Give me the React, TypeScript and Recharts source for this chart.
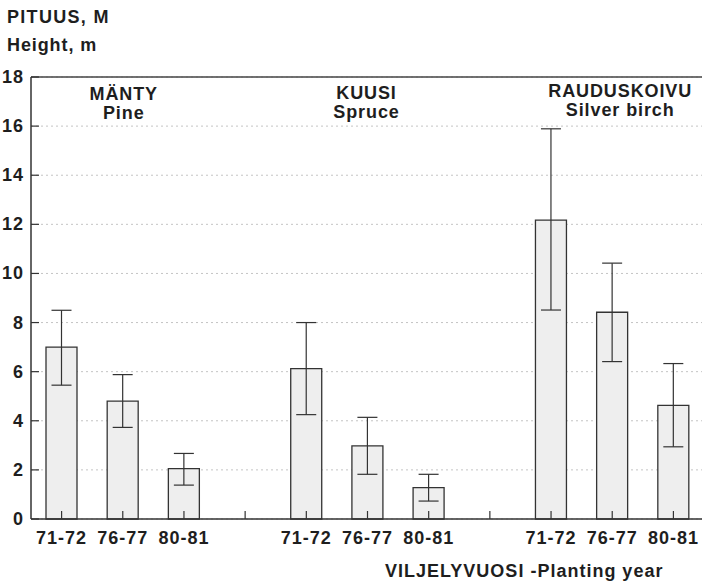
import React from 'react';
import {
  BarChart,
  Bar,
  XAxis,
  YAxis,
  CartesianGrid,
  ErrorBar,
  ReferenceLine,
} from 'recharts';

// mean tree height (m) per planting year, with lower / upper ends of the error bars
const plantingYears = ['71-72', '76-77', '80-81'];
const speciesFi = ['MÄNTY', 'KUUSI', 'RAUDUSKOIVU'];
const speciesEn = ['Pine', 'Spruce', 'Silver birch'];

const pineMean = [7.0, 4.8, 2.05];
const pineLow = [5.45, 3.73, 1.38];
const pineHigh = [8.5, 5.88, 2.67];

const spruceMean = [6.12, 2.98, 1.28];
const spruceLow = [4.25, 1.82, 0.73];
const spruceHigh = [8.0, 4.14, 1.82];

const birchMean = [12.17, 8.42, 4.63];
const birchLow = [8.51, 6.41, 2.94];
const birchHigh = [15.89, 10.42, 6.33];

const yTicks = [0, 2, 4, 6, 8, 10, 12, 14, 16, 18];

const FONT = '"Liberation Sans", Arial, sans-serif';
const INK = '#1e1e1e';

type Row = { slot: string; label: string; value: number | null; err: [number, number] | null };

const groups = [
  { key: 'p', mean: pineMean, low: pineLow, high: pineHigh },
  { key: 's', mean: spruceMean, low: spruceLow, high: spruceHigh },
  { key: 'b', mean: birchMean, low: birchLow, high: birchHigh },
];

// three bars per species, an empty slot between species
const rows: Row[] = [];
groups.forEach((g, gi) => {
  plantingYears.forEach((yr, i) => {
    rows.push({
      slot: `${g.key}${i}`,
      label: yr,
      value: g.mean[i],
      err: [g.mean[i] - g.low[i], g.high[i] - g.mean[i]],
    });
  });
  if (gi < groups.length - 1) rows.push({ slot: `gap${gi}`, label: '', value: null, err: null });
});

const labelBySlot: Record<string, string> = {};
rows.forEach((r) => (labelBySlot[r.slot] = r.label));

const XTick = (props: any) => {
  const { x, y, payload } = props;
  return (
    <g>
      <line x1={x} x2={x} y1={y - 8} y2={y} stroke="#333" strokeWidth={1.2} />
      <text
        x={x}
        y={y + 25}
        textAnchor="middle"
        fontFamily={FONT}
        fontWeight="bold"
        fontSize={18}
        letterSpacing={1}
        fill={INK}
      >
        {labelBySlot[payload.value]}
      </text>
    </g>
  );
};

const YTick = (props: any) => {
  const { x, y, payload } = props;
  return (
    <g>
      <line x1={x} x2={x + 8} y1={y} y2={y} stroke="#333" strokeWidth={1.2} />
      <text
        x={x - 7}
        y={y + 6}
        textAnchor="end"
        fontFamily={FONT}
        fontWeight="bold"
        fontSize={18}
        letterSpacing={1}
        fill={INK}
      >
        {payload.value}
      </text>
    </g>
  );
};

const speciesLabel = (fi: string, en: string, dx: number, y0: number) => (props: any) => {
  const cx = props.viewBox.x + dx;
  return (
    <g fontFamily={FONT} fontWeight="bold" fontSize={18} fill={INK} textAnchor="middle" letterSpacing={0.9}>
      <text x={cx} y={y0}>{fi}</text>
      <text x={cx} y={y0 + 19}>{en}</text>
    </g>
  );
};

const App: React.FC = () => {
  return (
    <div style={{ position: 'absolute', left: 0, top: 0, width: 702, height: 584, background: '#fff' }}>
      <BarChart
        width={702}
        height={584}
        data={rows}
        margin={{ top: 77, right: -2, bottom: 0, left: 0 }}
        barSize={31}
      >
        <CartesianGrid vertical={false} stroke="#c4c4c4" strokeDasharray="2 3" />
        <XAxis
          dataKey="slot"
          height={65}
          tickSize={0}
          tickMargin={0}
          interval={0}
          axisLine={{ stroke: '#333', strokeWidth: 1.5 }}
          tickLine={false}
          tick={<XTick />}
        />
        <YAxis
          width={31}
          domain={[0, 18]}
          ticks={yTicks}
          tickSize={0}
          tickMargin={0}
          axisLine={{ stroke: '#333', strokeWidth: 1.5 }}
          tickLine={false}
          tick={<YTick />}
        />
        <ReferenceLine y={18} stroke="#444" strokeWidth={1.5} />
        <ReferenceLine x="p1" strokeOpacity={0} label={speciesLabel(speciesFi[0], speciesEn[0], 1, 100)} />
        <ReferenceLine x="s1" strokeOpacity={0} label={speciesLabel(speciesFi[1], speciesEn[1], -1, 99)} />
        <ReferenceLine x="b1" strokeOpacity={0} label={speciesLabel(speciesFi[2], speciesEn[2], 8, 97)} />
        <Bar dataKey="value" fill="#eeeeee" stroke="#333" strokeWidth={1.3} isAnimationActive={false}>
          <ErrorBar dataKey="err" width={10} stroke="#333" strokeWidth={1.2} />
        </Bar>
      </BarChart>
      <svg
        width={702}
        height={584}
        style={{ position: 'absolute', left: 0, top: 0, pointerEvents: 'none' }}
      >
        <g fontFamily={FONT} fontWeight="bold" fontSize={18} fill={INK}>
          <text x={7} y={23} letterSpacing={1.3}>PITUUS, M</text>
          <text x={7} y={51} letterSpacing={0.9}>Height, m</text>
          <text x={385} y={577} letterSpacing={1}>VILJELYVUOSI -Planting year</text>
        </g>
      </svg>
    </div>
  );
};

export default App;
